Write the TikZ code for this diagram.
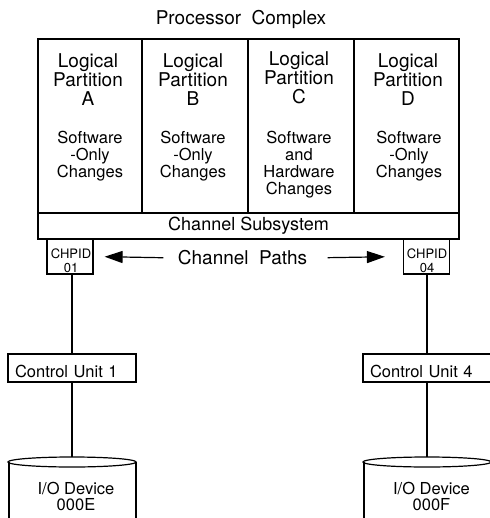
\documentclass[tikz,border=0pt]{standalone}
\usepackage{fontspec}
\setmainfont{TeX Gyre Heros}
\usetikzlibrary{arrows.meta}
\usetikzlibrary{positioning}

\begin{document}
\begin{tikzpicture}[x=1pt, y=-1pt, line width=1.2pt,
    lpar/.style={draw, minimum height=174pt, inner sep=0pt},
    lptitle/.style={anchor=north, align=center, inner sep=0pt, font=\fontsize{19pt}{19pt}\selectfont},
    lpnote/.style={anchor=north, align=center, inner sep=0pt, font=\fontsize{16.5pt}{17pt}\selectfont},
    chpid/.style={draw, minimum width=46pt, minimum height=35pt, inner sep=0pt},
    chtext/.style={anchor=north, align=center, inner sep=0pt, font=\fontsize{13pt}{14pt}\selectfont},
    cunit/.style={draw, text width=114pt, align=left, inner xsep=7pt, inner ysep=0pt, minimum height=28pt, text height=18pt, text depth=0pt, font=\fontsize{16.5pt}{17pt}\selectfont},
    iotext/.style={anchor=north, align=center, inner sep=0pt, font=\fontsize{16.5pt}{16pt}\selectfont},
    patharrow/.style={-{Triangle[length=18pt, width=12pt]}}]
\useasboundingbox (0,0) rectangle (489,518);

% processor complex
\node[anchor=north, inner sep=0pt, font=\fontsize{19pt}{19pt}\selectfont] (pc) at (241,10) {Processor\hspace{0.55em}Complex};

\node[lpar, minimum width=104pt] (lpA) at (90,126) {};
\node[lpar, minimum width=106pt] (lpB) at (195,126) {};
\node[lpar, minimum width=106pt] (lpC) at (301,126) {};
\node[lpar, minimum width=105pt] (lpD) at (406.5,126) {};

\node[lptitle] at (88,53) {Logical\\Partition\\A};
\node[lptitle] at (193,53) {Logical\\Partition\\B};
\node[lptitle] at (299,51) {Logical\\Partition\\C};
\node[lptitle] at (408,53) {Logical\\Partition\\D};

\node[lpnote] at (90,131) {Software\\-Only\\Changes};
\node[lpnote] at (193,131) {Software\\-Only\\Changes};
\node[lpnote] at (299,131) {Software\\and\\Hardware\\Changes};
\node[lpnote] at (409,131) {Software\\-Only\\Changes};

\node[draw, minimum width=421pt, minimum height=26pt, inner sep=0pt, font=\fontsize{18pt}{18pt}\selectfont] (css) at (248.5,226) {Channel Subsystem};

% channel paths
\node[chpid] (ch1) at (70,256.5) {};
\node[chpid] (ch4) at (426.5,256.5) {};
\node[chtext] at (71,248) {CHPID\\01};
\node[chtext] at (427,248) {CHPID\\04};
\node[inner sep=0pt, font=\fontsize{19pt}{19pt}\selectfont] (cp) at (242.5,258) {Channel\hspace{0.55em}Paths};
\draw[patharrow, shorten <=14pt, shorten >=11pt] (cp.west) -- (ch1.east);
\draw[patharrow, shorten <=20pt, shorten >=18pt] (cp.east) -- (ch4.west);

% control units
\node[cunit] (cu1) at (72,368) {Control Unit 1};
\node[cunit] (cu4) at (427,368) {Control Unit 4};
\draw (cu1.north) -- (cu1.north |- ch1.south);
\draw (cu4.north) -- (cu4.north |- ch4.south);

% i/o devices
\coordinate (io1) at (72,457);
\coordinate (io4) at (427,457);
\draw (cu1.south) -- (io1);
\draw (cu4.south) -- (io4);
\draw ([yshift=-5pt]io1) ellipse[x radius=64, y radius=5];
\draw ([xshift=-63pt, yshift=-5pt]io1) -- ++(0,60);
\draw ([xshift=64pt, yshift=-5pt]io1) -- ++(0,60);
\draw ([yshift=-5pt]io4) ellipse[x radius=64, y radius=5];
\draw ([xshift=-63pt, yshift=-5pt]io4) -- ++(0,60);
\draw ([xshift=64pt, yshift=-5pt]io4) -- ++(0,60);
\node[iotext] at (76,482) {I/O Device\\000E};
\node[iotext] at (431.5,482) {I/O Device\\000F};
\end{tikzpicture}
\end{document}
